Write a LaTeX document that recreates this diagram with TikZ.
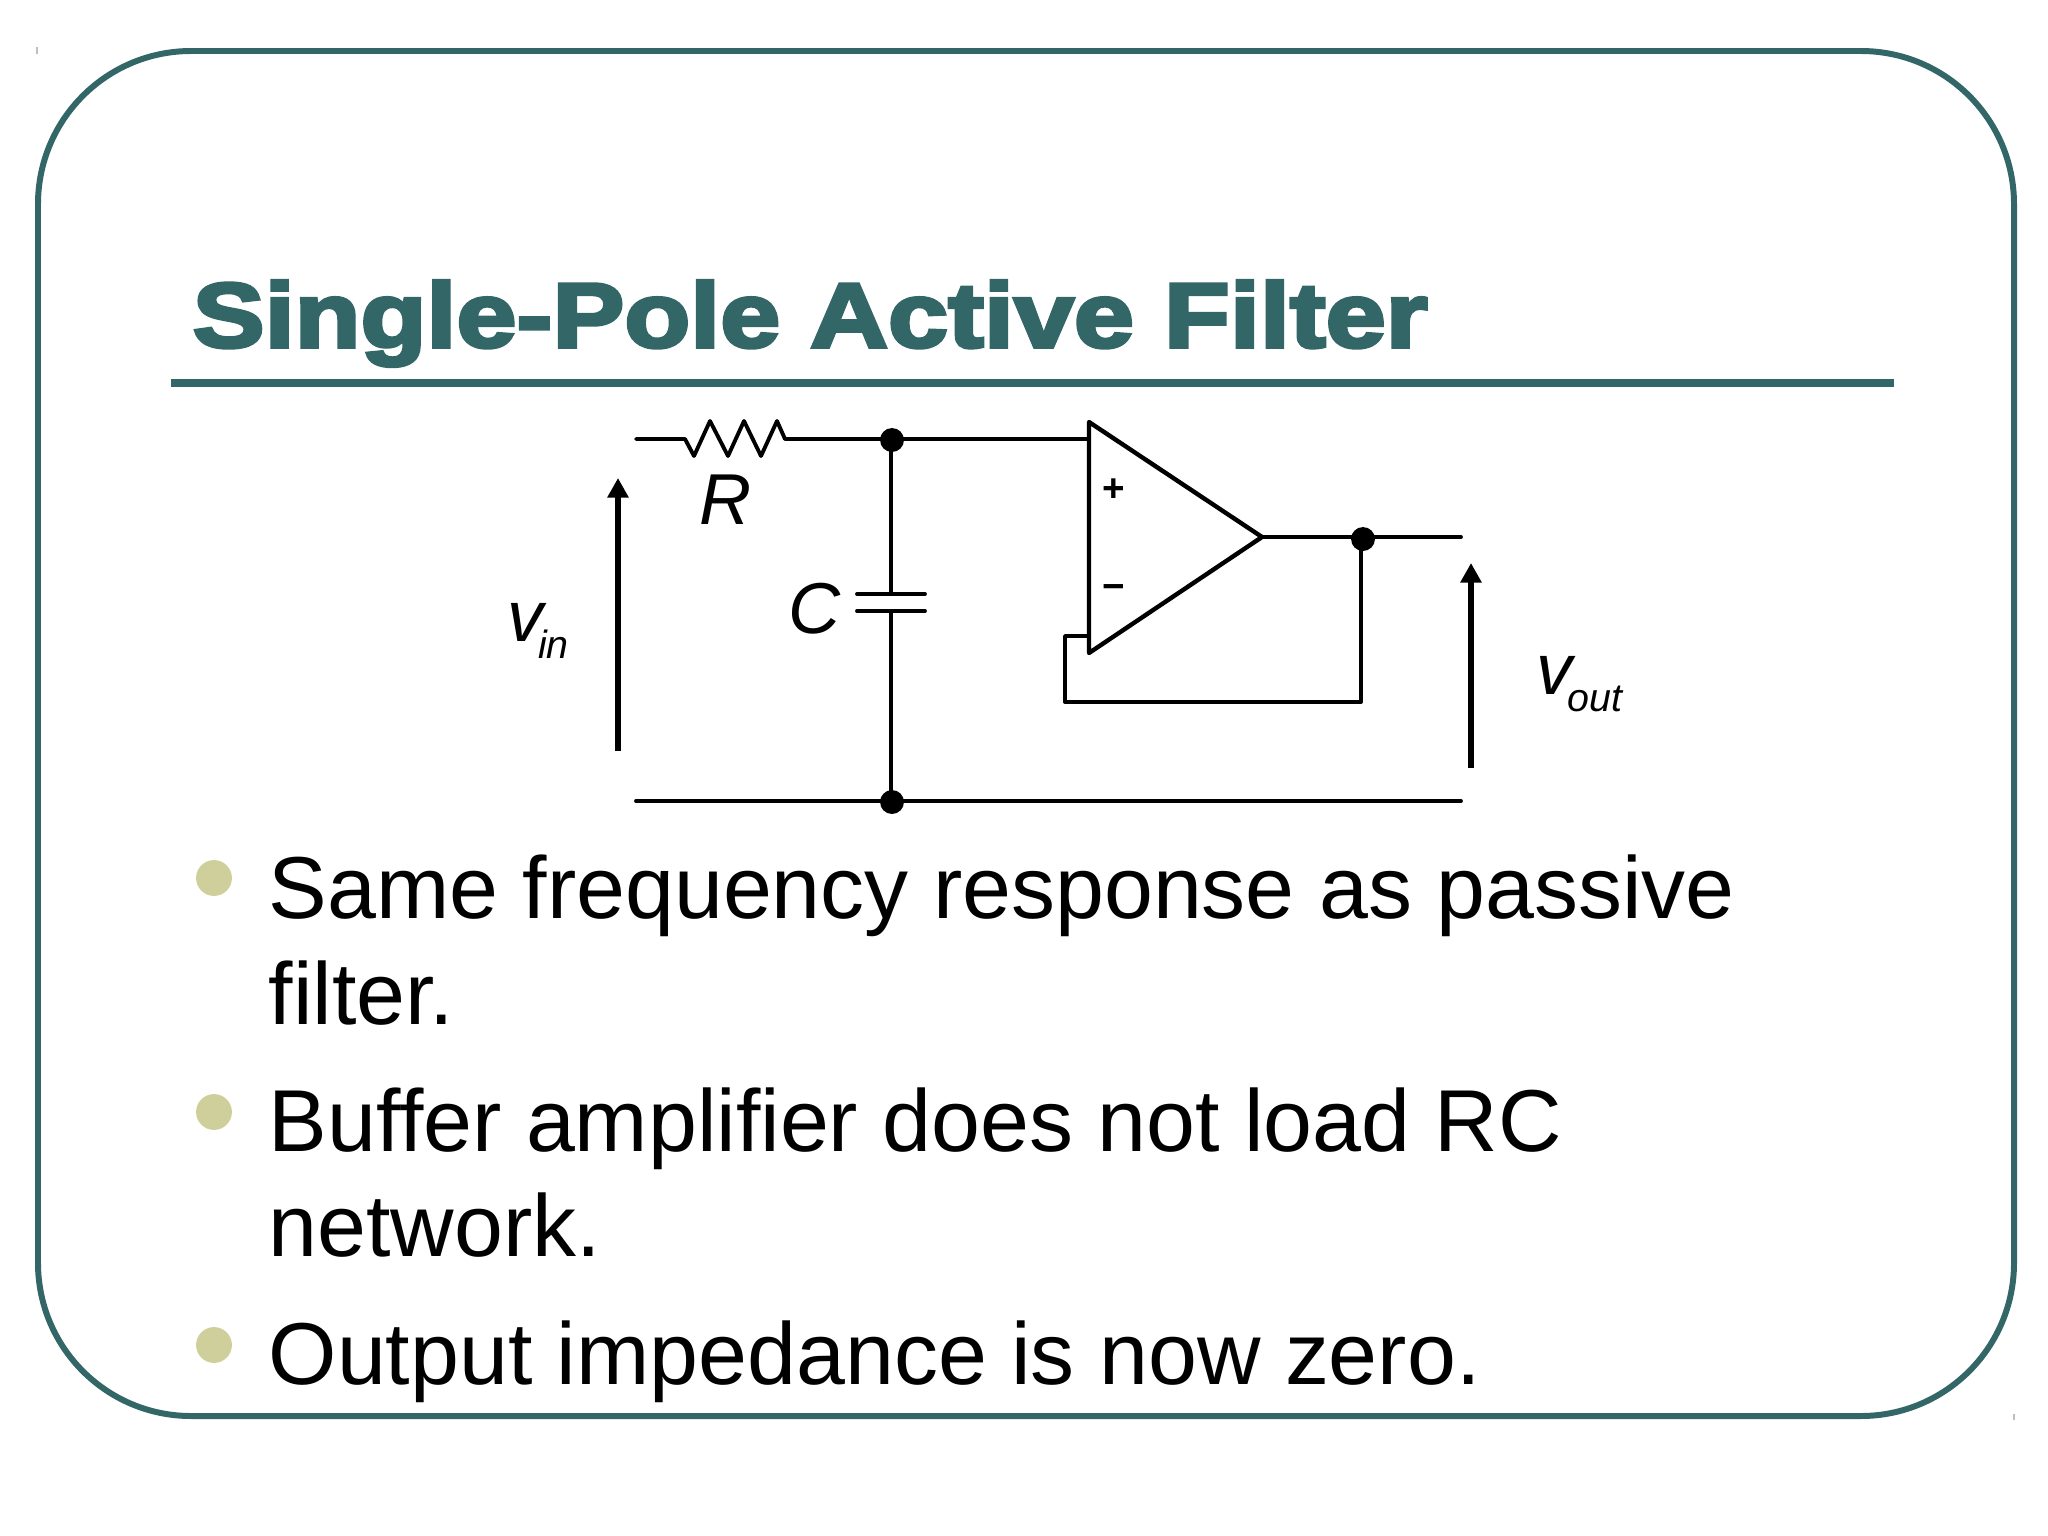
\documentclass[tikz,border=0pt]{standalone}
\usepackage{fontspec}
\setmainfont{Liberation Sans}
\newfontfamily\titlefont[FakeBold=4,FakeStretch=1.18]{Liberation Sans Bold}
\usetikzlibrary{arrows.meta}
\definecolor{slideteal}{HTML}{336666}
\definecolor{bulletolive}{HTML}{CFCF9C}
\newcommand{\lowsub}[2]{\kern#1\lower5pt\hbox{\fontsize{11.2}{11.2}\selectfont #2}}

\begin{document}
\begin{tikzpicture}[
  x=0.01cm, y=-0.01cm,
  >={Stealth[length=5.6pt,width=5.8pt,inset=0pt]},
  wire/.style={line width=1.1pt, line cap=round, line join=round},
  vsense/.style={->, line width=1.7pt},
  junction/.style={circle, fill=black, inner sep=0pt, minimum size=6.8pt},
  pinsign/.style={font=\fontsize{11}{11}\selectfont\bfseries, inner sep=0pt, text=black},
  partlabel/.style={font=\fontsize{20.5}{20.5}\selectfont\itshape, anchor=base west, inner sep=0pt},
  bullettext/.style={font=\fontsize{25}{25}\selectfont, anchor=base west, inner sep=0pt},
  bulletdot/.style={circle, fill=bulletolive, inner sep=0pt, minimum size=10.2pt}
]
\useasboundingbox (0,0) rectangle (2048,1536);

% Slide frame and title
\draw[slideteal, line width=1.7pt, rounded corners=1.53cm] (38,51) rectangle (2014,1416);
\draw[gray!50, line width=0.3pt] (37,47) -- (37,54);
\draw[gray!50, line width=0.3pt] (2014,1414) -- (2014,1420);
\node[font=\fontsize{26}{26}\selectfont\titlefont, text=slideteal, anchor=base west, inner sep=0pt]
  (title) at (192,347) {Single-Pole Active Filter};
\draw[slideteal, line width=2.2pt] (171,383) -- (1894,383);

% Corner points of the circuit
\coordinate (intop) at (636,439);
\coordinate (rleft) at (685,439);
\coordinate (rright) at (785,439);
\coordinate (captop) at (891,439);
\coordinate (capbot) at (891,801);
\coordinate (inbot) at (636,801);
\coordinate (outbot) at (1461,801);
\coordinate (outtop) at (1461,537);
\coordinate (capup) at (891,594);
\coordinate (capdown) at (891,611);
\coordinate (ampplus) at (1089,439);
\coordinate (ampminus) at (1089,636);
\coordinate (ampout) at (1262,537);
\coordinate (fbleft) at (1065,636);
\coordinate (fbbotl) at (1065,702);
\coordinate (fbbotr) at (1361,702);
\coordinate (fbtop) at (1361,537);
\node[junction] (jtop) at (892,440) {};
\node[junction] (jbot) at (892,802) {};
\node[junction] (jout) at (1363,539) {};

% Input wire with resistor
\draw[wire] (intop) -- (rleft) -- ++(9,17) -- ++(16,-35) -- ++(18,35) -- ++(16,-35)
  -- ++(17,35) -- ++(16,-35) -- (rright) -- (captop) -- (ampplus);
\draw[wire] (inbot) -- (capbot) -- (outbot);

% Capacitor
\draw[wire] (captop) -- (capup);
\draw[wire] (capdown) -- (capbot);
\draw[wire] (857,594) -- (925,594);
\draw[wire] (857,611) -- (925,611);

% Op amp with feedback
\draw[wire, line width=1.25pt] (1089,422) -- (ampout) -- (1089,653) -- cycle;
\node[pinsign] (plus) at (1114,490) {+};
\node[pinsign] (minus) at (1114,592) {−};
\draw[wire] (ampout) -- (fbtop) -- (outtop);
\draw[wire] (ampminus) -- (fbleft) -- (fbbotl) -- (fbbotr) -- (fbtop);

% Voltage arrows
\coordinate (vinfoot) at (618,751);
\coordinate (vinhead) at (618,478);
\coordinate (voutfoot) at (1471,768);
\coordinate (vouthead) at (1471,563);
\draw[vsense] (vinfoot) -- (vinhead);
\draw[vsense] (voutfoot) -- (vouthead);

% Labels
\node[partlabel] (rlabel) at (699,524) {R};
\node[partlabel] (clabel) at (788,633) {C};
\node[partlabel] (vinlabel) at (507,641) {v\lowsub{-1.6pt}{in}};
\node[partlabel] (voutlabel) at (1536,694) {v\lowsub{-1.4pt}{out}};

% Bullet list
\node[bulletdot] (dota) at (214,878) {};
\node[bulletdot] (dotb) at (214,1112) {};
\node[bulletdot] (dotc) at (214,1345) {};
\node[bullettext] (linea) at (268,918) {Same frequency response as passive};
\node[bullettext] (lineb) at (268,1024) {filter.};
\node[bullettext] (linec) at (268,1151) {Buffer amplifier does not load RC};
\node[bullettext] (lined) at (268,1256) {network.};
\node[bullettext] (linee) at (268,1384) {Output impedance is now zero.};
\end{tikzpicture}
\end{document}
